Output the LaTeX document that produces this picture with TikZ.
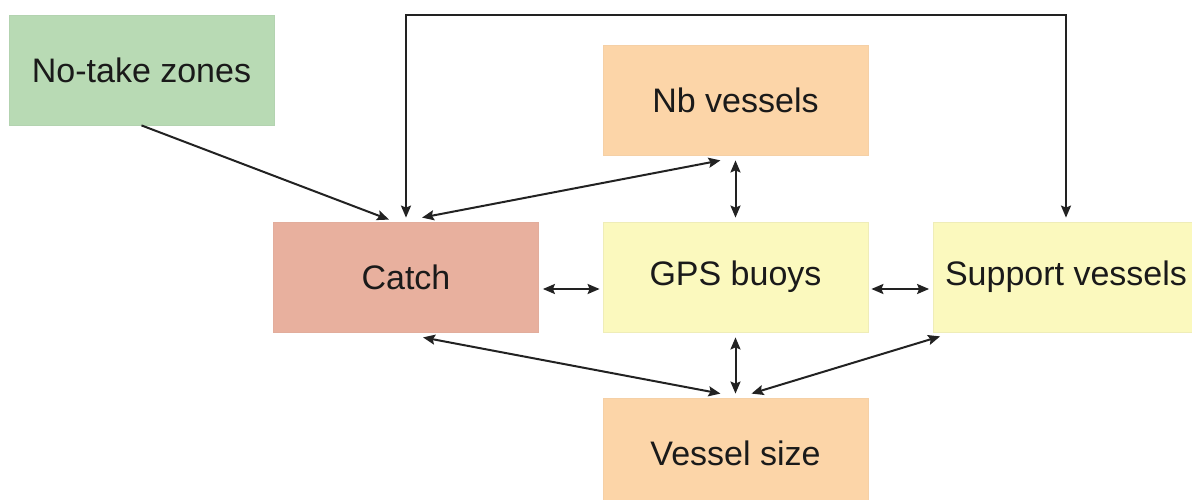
\documentclass[tikz,border=0pt]{standalone}
\usepackage{fontspec}
\setmainfont{Liberation Sans}
\usetikzlibrary{arrows.meta,calc}
\definecolor{cgreen}{HTML}{B8DAB4}
\definecolor{csalmon}{HTML}{E8B09E}
\definecolor{corange}{HTML}{FCD5A8}
\definecolor{cyellow}{HTML}{FBF9BE}
\definecolor{cline}{HTML}{222222}
\definecolor{ctext}{HTML}{1A1A1A}
\tikzset{
  box/.style={rectangle, minimum width=265pt, minimum height=110pt, inner sep=0pt,
    font=\fontsize{34}{40}\selectfont, text=ctext, line width=0.8pt},
  tip/.style={Stealth[length=12pt,width=10pt,inset=2pt]},
  link/.style={draw=cline, line width=2pt, {Stealth[length=12pt,width=10pt,inset=2pt]}-{Stealth[length=12pt,width=10pt,inset=2pt]}},
  onelink/.style={draw=cline, line width=2pt, -{Stealth[length=12pt,width=10pt,inset=2pt]}}
}
\begin{document}
\begin{tikzpicture}[x=1pt,y=-1pt]
\useasboundingbox (0,0) rectangle (1192,500);
\node[box, fill=cgreen, draw=cgreen!92!gray] (notake) at (141.5,70) {No-take zones};
\node[box, fill=corange, draw=corange!94!gray] (nb) at (735.5,100) {Nb vessels};
\node[box, fill=csalmon, draw=csalmon!94!gray] (catch) at (406,277) {Catch};
\node[box, fill=cyellow, draw=cyellow!90!gray] (gps) at (735.5,277) {GPS buoys};
\node[box, fill=cyellow, draw=cyellow!90!gray] (support) at (1066,277) {Support vessels};
\node[box, fill=corange, draw=corange!94!gray] (vessel) at (735.5,453) {Vessel size};
\coordinate (top) at (0,15);
% top loop
\draw[link] ([yshift=4pt]catch.north) -- (catch.north |- top) -- (support.north |- top) -- ([yshift=4pt]support.north);
% no-take to catch
\draw[onelink] (notake.south) -- ([xshift=-17pt,yshift=2pt]catch.north);
% catch - nb
\draw[link] ([xshift=16pt,yshift=4pt]catch.north) -- ([xshift=-15pt,yshift=-5pt]nb.south);
% nb - gps
\draw[link] ([yshift=-5pt]nb.south) -- ([yshift=4pt]gps.north);
% catch - gps
\draw[link] ([xshift=4pt,yshift=-12pt]catch.east) -- ([xshift=-3pt,yshift=-12pt]gps.west);
% gps - support
\draw[link] ([xshift=3pt,yshift=-12pt]gps.east) -- ([xshift=-4pt,yshift=-12pt]support.west);
% to vessel size
\draw[link] ([xshift=17pt,yshift=-5pt]catch.south) -- ([xshift=-15pt,yshift=4pt]vessel.north);
\draw[link] ([yshift=-5pt]gps.south) -- ([yshift=4pt]vessel.north);
\draw[link] ([xshift=7pt,yshift=-4pt]support.south west) -- ([xshift=16pt,yshift=4pt]vessel.north);
\end{tikzpicture}
\end{document}
